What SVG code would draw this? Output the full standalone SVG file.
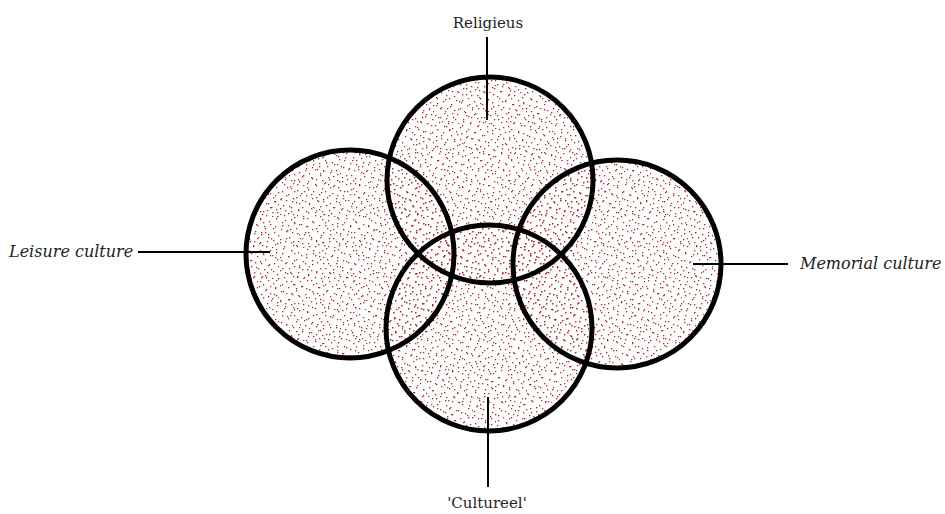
<svg xmlns="http://www.w3.org/2000/svg" width="945" height="514" viewBox="0 0 945 514">
<style>
.lbl{font-family:"DejaVu Serif","Liberation Serif",serif;font-size:15px;fill:#222}
.it{font-style:italic;font-size:16px}
.ring{fill:none;stroke:#000;stroke-width:5}
.conn line{stroke:#000;stroke-width:2}
</style>
<defs>
<pattern id="pA" patternUnits="userSpaceOnUse" width="31" height="31">
<g fill="#b8282a">
<rect x="3" y="5" width="1.3" height="1.3"/><rect x="12" y="2" width="1.3" height="1.3"/><rect x="22" y="7" width="1.3" height="1.3"/><rect x="28" y="1" width="1.3" height="1.3"/><rect x="7" y="14" width="1.3" height="1.3"/><rect x="17" y="11" width="1.3" height="1.3"/><rect x="26" y="15" width="1.3" height="1.3"/><rect x="1" y="22" width="1.3" height="1.3"/><rect x="10" y="20" width="1.3" height="1.3"/><rect x="19" y="24" width="1.3" height="1.3"/><rect x="29" y="26" width="1.3" height="1.3"/><rect x="5" y="29" width="1.3" height="1.3"/><rect x="14" y="28" width="1.3" height="1.3"/><rect x="24" y="30" width="1.3" height="1.3"/><rect x="9" y="8" width="1.3" height="1.3"/><rect x="20" y="17" width="1.3" height="1.3"/><rect x="15" y="5" width="1.3" height="1.3"/><rect x="2" y="12" width="1.3" height="1.3"/><rect x="27" y="9" width="1.3" height="1.3"/><rect x="12" y="25" width="1.3" height="1.3"/><rect x="23" y="21" width="1.3" height="1.3"/><rect x="6" y="24" width="1.3" height="1.3"/><rect x="18" y="29" width="1.3" height="1.3"/><rect x="30" y="18" width="1.3" height="1.3"/><rect x="13" y="15" width="1.3" height="1.3"/>
</g>
</pattern>
<pattern id="pB" patternUnits="userSpaceOnUse" width="43" height="43">
<g fill="#a82a2c">
<rect x="2" y="3" width="1.3" height="1.3"/><rect x="11" y="6" width="1.3" height="1.3"/><rect x="19" y="1" width="1.3" height="1.3"/><rect x="27" y="5" width="1.3" height="1.3"/><rect x="36" y="2" width="1.3" height="1.3"/><rect x="41" y="9" width="1.3" height="1.3"/><rect x="6" y="11" width="1.3" height="1.3"/><rect x="15" y="13" width="1.3" height="1.3"/><rect x="24" y="10" width="1.3" height="1.3"/><rect x="32" y="14" width="1.3" height="1.3"/><rect x="39" y="18" width="1.3" height="1.3"/><rect x="3" y="19" width="1.3" height="1.3"/><rect x="10" y="22" width="1.3" height="1.3"/><rect x="20" y="20" width="1.3" height="1.3"/><rect x="28" y="23" width="1.3" height="1.3"/><rect x="35" y="26" width="1.3" height="1.3"/><rect x="1" y="28" width="1.3" height="1.3"/><rect x="8" y="31" width="1.3" height="1.3"/><rect x="17" y="29" width="1.3" height="1.3"/><rect x="25" y="33" width="1.3" height="1.3"/><rect x="33" y="35" width="1.3" height="1.3"/><rect x="40" y="37" width="1.3" height="1.3"/><rect x="5" y="39" width="1.3" height="1.3"/><rect x="14" y="40" width="1.3" height="1.3"/><rect x="22" y="42" width="1.3" height="1.3"/><rect x="30" y="41" width="1.3" height="1.3"/><rect x="38" y="30" width="1.3" height="1.3"/><rect x="12" y="35" width="1.3" height="1.3"/><rect x="18" y="37" width="1.3" height="1.3"/><rect x="29" y="15" width="1.3" height="1.3"/><rect x="7" y="17" width="1.3" height="1.3"/><rect x="22" y="27" width="1.3" height="1.3"/><rect x="36" y="8" width="1.3" height="1.3"/><rect x="15" y="25" width="1.3" height="1.3"/><rect x="42" y="23" width="1.3" height="1.3"/>
</g>
</pattern>
</defs>
<rect width="945" height="514" fill="#fff"/>
<g id="fills">
<circle cx="490" cy="180" r="103" fill="url(#pA)"/><circle cx="490" cy="180" r="103" fill="url(#pB)"/>
<circle cx="350" cy="254" r="104" fill="url(#pA)"/><circle cx="350" cy="254" r="104" fill="url(#pB)"/>
<circle cx="617" cy="264" r="104" fill="url(#pA)"/><circle cx="617" cy="264" r="104" fill="url(#pB)"/>
<circle cx="489" cy="328" r="103" fill="url(#pA)"/><circle cx="489" cy="328" r="103" fill="url(#pB)"/>
</g>
<g class="conn" id="connectors">
<line x1="487" y1="37" x2="487" y2="120"/>
<line x1="138" y1="252" x2="270" y2="252"/>
<line x1="693" y1="264" x2="788" y2="264"/>
<line x1="488" y1="397" x2="488" y2="487"/>
</g>
<g id="religieus"><circle class="ring" cx="490" cy="180" r="103"/><text class="lbl" x="488" y="28" text-anchor="middle">Religieus</text></g>
<g id="leisure"><circle class="ring" cx="350" cy="254" r="104"/><text class="lbl it" x="9" y="257">Leisure culture</text></g>
<g id="memorial"><circle class="ring" cx="617" cy="264" r="104"/><text class="lbl it" x="800" y="269">Memorial culture</text></g>
<g id="cultureel"><circle class="ring" cx="489" cy="328" r="103"/><text class="lbl" x="487" y="508" text-anchor="middle">'Cultureel'</text></g>
</svg>
